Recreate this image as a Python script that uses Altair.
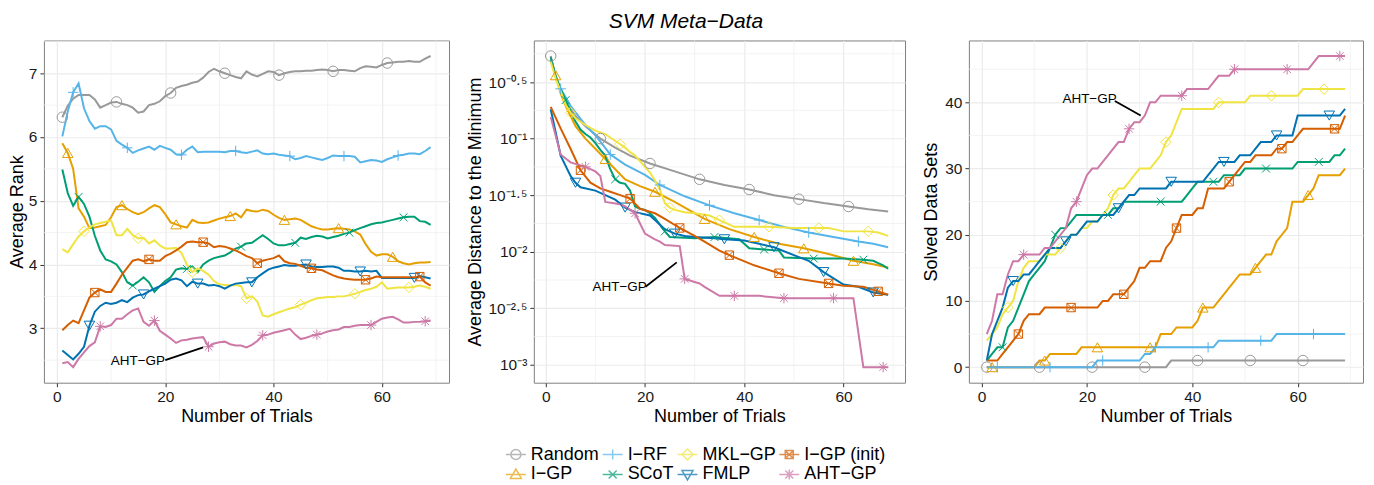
import altair as alt
import pandas as pd

FONT = "Liberation Sans"

# ---------------- series definitions ----------------
series_names = ["Random", "I−GP", "I−RF", "SCoT", "MKL−GP", "FMLP", "I−GP (init)", "AHT−GP"]
series_colors = ["#999999", "#E69F00", "#56B4E9", "#009E73", "#F0E442", "#0072B2", "#D55E00", "#CC79A7"]
first_marker_trial = [1, 2, 3, 4, 5, 6, 7, 8]
legend_order = ["Random", "I−RF", "MKL−GP", "I−GP (init)", "I−GP", "SCoT", "FMLP", "AHT−GP"]

marker_shapes = [
    "circle",
    "triangle-up",
    "M-1,0L1,0M0,-1L0,1",
    "M-0.75,-0.75L0.75,0.75M-0.75,0.75L0.75,-0.75",
    "diamond",
    "triangle-down",
    "M-0.8,-0.8L0.8,-0.8L0.8,0.8L-0.8,0.8ZM-0.8,-0.8L0.8,0.8M-0.8,0.8L0.8,-0.8",
    "M-1,0L1,0M0,-1L0,1M-0.72,-0.72L0.72,0.72M-0.72,0.72L0.72,-0.72",
]
legend_shapes = [
    "M-1,0L1,0M0.5,0A0.5,0.5,0,1,1,-0.5,0A0.5,0.5,0,1,1,0.5,0",
    "M-1,0L1,0M0,-0.55L0.55,0.4L-0.55,0.4Z",
    "M-1,0L1,0M0,-0.5L0,0.5",
    "M-1,0L1,0M-0.4,-0.4L0.4,0.4M-0.4,0.4L0.4,-0.4",
    "M-1,0L1,0M0,-0.55L0.55,0L0,0.55L-0.55,0Z",
    "M-1,0L1,0M0,0.55L0.55,-0.4L-0.55,-0.4Z",
    "M-1,0L1,0M-0.4,-0.4L0.4,-0.4L0.4,0.4L-0.4,0.4ZM-0.4,-0.4L0.4,0.4M-0.4,0.4L0.4,-0.4",
    "M-1,0L1,0M0,-0.5L0,0.5M-0.4,-0.4L0.4,0.4M-0.4,0.4L0.4,-0.4",
]

trials = list(range(1, 70))

# ---------------- panel 1: average rank ----------------
rank_random = [6.31, 6.49, 6.60, 6.66, 6.66, 6.66, 6.59, 6.46, 6.50, 6.54,
               6.55, 6.52, 6.50, 6.46, 6.38, 6.40, 6.50, 6.52, 6.56, 6.64,
               6.69, 6.77, 6.80, 6.82, 6.85, 6.87, 6.93, 7.02, 7.07, 7.03,
               7.00, 6.97, 6.94, 6.92, 7.03, 6.98, 6.95, 6.99, 7.03, 7.02,
               6.97, 7.00, 7.02, 7.03, 7.03, 7.04, 7.04, 7.05, 7.06, 7.05,
               7.03, 7.05, 7.05, 7.04, 7.03, 7.08, 7.11, 7.10, 7.09, 7.13,
               7.16, 7.17, 7.18, 7.18, 7.19, 7.18, 7.18, 7.23, 7.27]
rank_igp = [5.90, 5.75, 5.50, 4.88, 4.75, 4.57, 4.58, 4.60, 4.62, 4.74,
            4.90, 4.93, 4.87, 4.82, 4.79, 4.82, 4.88, 4.93, 4.90, 4.79,
            4.66, 4.63, 4.60, 4.58, 4.70, 4.66, 4.65, 4.66, 4.69, 4.72,
            4.74, 4.76, 4.80, 4.74, 4.86, 4.84, 4.83, 4.86, 4.84, 4.78,
            4.73, 4.70, 4.71, 4.72, 4.70, 4.65, 4.60, 4.57, 4.55, 4.55,
            4.56, 4.57, 4.56, 4.55, 4.52, 4.47, 4.32, 4.20, 4.14, 4.16,
            4.16, 4.12, 4.05, 4.02, 4.00, 4.02, 4.03, 4.03, 4.04]
rank_irf = [6.01, 6.40, 6.70, 6.84, 6.45, 6.25, 6.13, 6.17, 6.17, 6.12,
            5.94, 5.88, 5.83, 5.75, 5.79, 5.82, 5.85, 5.80, 5.86, 5.83,
            5.80, 5.73, 5.72, 5.80, 5.85, 5.76, 5.77, 5.77, 5.77, 5.77,
            5.76, 5.78, 5.78, 5.76, 5.75, 5.77, 5.79, 5.74, 5.73, 5.74,
            5.72, 5.71, 5.70, 5.65, 5.67, 5.70, 5.68, 5.66, 5.64, 5.67,
            5.71, 5.70, 5.70, 5.70, 5.69, 5.60, 5.62, 5.64, 5.63, 5.61,
            5.65, 5.68, 5.71, 5.72, 5.74, 5.74, 5.73, 5.78, 5.84]
rank_scot = [5.49, 5.12, 4.92, 5.06, 4.95, 4.75, 4.45, 4.22, 4.08, 4.05,
             4.00, 3.88, 3.72, 3.67, 3.73, 3.80, 3.72, 3.57, 3.66, 3.74,
             3.80, 3.92, 3.94, 3.93, 3.97, 3.88, 4.00, 4.06, 4.10, 4.12,
             4.14, 4.19, 4.25, 4.28, 4.33, 4.34, 4.40, 4.46, 4.40, 4.33,
             4.30, 4.30, 4.32, 4.34, 4.42, 4.40, 4.43, 4.45, 4.44, 4.41,
             4.43, 4.45, 4.48, 4.50, 4.54, 4.57, 4.60, 4.63, 4.65, 4.66,
             4.68, 4.70, 4.72, 4.74, 4.75, 4.75, 4.68, 4.67, 4.62]
rank_mkl = [4.24, 4.19, 4.32, 4.44, 4.52, 4.58, 4.63, 4.65, 4.67, 4.69,
            4.46, 4.46, 4.56, 4.46, 4.41, 4.42, 4.33, 4.38, 4.30, 4.25,
            4.25, 4.26, 4.18, 4.00, 3.88, 3.94, 3.90, 3.84, 3.74, 3.69,
            3.68, 3.67, 3.68, 3.66, 3.47, 3.50, 3.42, 3.20, 3.18, 3.22,
            3.25, 3.28, 3.31, 3.33, 3.37, 3.40, 3.44, 3.47, 3.48, 3.49,
            3.49, 3.50, 3.50, 3.52, 3.54, 3.57, 3.60, 3.62, 3.65, 3.72,
            3.62, 3.63, 3.64, 3.64, 3.64, 3.65, 3.67, 3.65, 3.62]
rank_fmlp = [2.65, 2.58, 2.51, 2.60, 2.71, 3.04, 3.26, 3.35, 3.40, 3.38,
             3.40, 3.44, 3.41, 3.48, 3.52, 3.53, 3.58, 3.62, 3.66, 3.70,
             3.76, 3.78, 3.75, 3.66, 3.73, 3.70, 3.70, 3.67, 3.68, 3.66,
             3.62, 3.67, 3.70, 3.71, 3.72, 3.72, 3.80, 3.86, 3.92, 3.95,
             3.97, 3.99, 3.98, 3.98, 3.99, 4.00, 3.97, 3.96, 3.96, 3.97,
             3.97, 3.95, 3.90, 3.90, 3.89, 3.89, 3.90, 3.89, 3.90, 3.79,
             3.79, 3.79, 3.79, 3.79, 3.79, 3.79, 3.82, 3.80, 3.78]
rank_init = [2.97, 3.05, 3.12, 3.08, 3.28, 3.48, 3.56, 3.61, 3.57, 3.57,
             3.70, 3.84, 3.95, 4.06, 4.08, 4.05, 4.08, 4.06, 4.06, 4.13,
             4.17, 4.22, 4.28, 4.35, 4.36, 4.35, 4.35, 4.33, 4.27, 4.29,
             4.28, 4.25, 4.22, 4.18, 4.13, 4.10, 4.02, 4.06, 4.08, 4.10,
             4.14, 4.05, 4.02, 4.01, 3.98, 3.95, 3.94, 3.92, 3.91, 3.87,
             3.83, 3.80, 3.78, 3.77, 3.76, 3.76, 3.76, 3.78, 3.81, 3.80,
             3.80, 3.80, 3.80, 3.80, 3.80, 3.80, 3.81, 3.72, 3.67]
rank_aht = [2.45, 2.47, 2.39, 2.52, 2.62, 2.72, 2.78, 3.03, 3.02, 3.05,
            3.15, 3.15, 3.22, 3.28, 3.31, 3.10, 3.04, 3.12, 2.96, 2.90,
            2.84, 2.77, 2.81, 2.82, 2.84, 2.85, 2.86, 2.71, 2.76, 2.78,
            2.79, 2.75, 2.73, 2.73, 2.70, 2.74, 2.80, 2.89, 2.90, 2.93,
            2.95, 2.97, 2.99, 2.90, 2.83, 2.85, 2.88, 2.90, 2.92, 2.95,
            2.97, 2.98, 3.02, 3.02, 3.04, 3.05, 3.05, 3.05, 3.10, 3.15,
            3.17, 3.18, 3.14, 3.09, 3.09, 3.10, 3.10, 3.11, 3.12]

# ---------------- panel 2: distance to minimum (log10 of value) ----------------
dist_x_random = [1, 2, 3, 4, 5, 6, 8, 11, 14, 17, 21, 26, 31, 36, 41, 46, 51, 56, 61, 65, 69]
dist_log_random = [-0.27, -0.45, -0.58, -0.68, -0.74, -0.80, -0.89, -1.00, -1.08, -1.15, -1.22,
                   -1.29, -1.36, -1.41, -1.45, -1.50, -1.535, -1.57, -1.60, -1.625, -1.645]
dist_x_igp = [1, 2, 3, 4, 6, 8, 10, 12, 16, 19, 22, 26, 32, 37, 42, 47, 52, 57, 62, 66, 69]
dist_log_igp = [-0.30, -0.44, -0.60, -0.71, -0.89, -1.00, -1.09, -1.18, -1.36, -1.42, -1.47,
                -1.56, -1.71, -1.80, -1.87, -1.93, -1.97, -2.02, -2.08, -2.11, -2.14]
dist_x_irf = [1, 2, 3, 5, 8, 10, 13, 16, 20, 23, 28, 33, 38, 43, 48, 53, 58, 63, 66, 69]
dist_log_irf = [-0.30, -0.45, -0.56, -0.71, -0.88, -0.97, -1.14, -1.23, -1.32, -1.41,
                -1.51, -1.59, -1.66, -1.72, -1.78, -1.83, -1.87, -1.91, -1.93, -1.96]
dist_x_scot = [1, 2, 3, 4, 5, 6, 7, 8, 9, 10, 11, 12, 13, 14, 15, 16, 17, 18, 19, 20,
               21, 22, 23, 24, 25, 30, 34, 39, 41, 44, 47, 48, 54, 60, 64, 66, 67, 68, 69]
dist_log_scot = [-0.28, -0.45, -0.56, -0.66, -0.76, -0.85, -0.92, -0.96, -0.99, -1.04,
                 -1.10, -1.15, -1.27, -1.36, -1.39, -1.40, -1.46, -1.60, -1.62, -1.63,
                 -1.66, -1.70, -1.76, -1.82, -1.87, -1.88, -1.87, -1.89, -1.97, -1.98,
                 -1.99, -2.05, -2.06, -2.06, -2.07, -2.08, -2.10, -2.12, -2.15]
dist_x_mkl = [1, 2, 3, 4, 5, 6, 8, 10, 12, 13, 15, 16, 17, 18, 19, 20, 21, 22, 23, 24,
              25, 26, 28, 30, 33, 35, 37, 38, 40, 45, 50, 55, 57, 58, 60, 65, 67, 69]
dist_log_mkl = [-0.32, -0.47, -0.58, -0.70, -0.77, -0.82, -0.88, -0.93, -0.96, -0.99,
                -1.05, -1.08, -1.12, -1.15, -1.20, -1.25, -1.30, -1.37, -1.45, -1.57,
                -1.61, -1.63, -1.65, -1.66, -1.68, -1.72, -1.76, -1.78, -1.78, -1.78,
                -1.79, -1.79, -1.79, -1.80, -1.82, -1.82, -1.83, -1.86]
dist_x_fmlp = [1, 3, 5, 6, 7, 10, 12, 14, 16, 18, 21, 22, 24, 26, 28, 30, 34, 36, 40, 43,
               46, 50, 53, 56, 60, 63, 66, 69]
dist_log_fmlp = [-0.74, -1.15, -1.33, -1.39, -1.43, -1.46, -1.50, -1.54, -1.61, -1.65,
                 -1.68, -1.72, -1.80, -1.84, -1.86, -1.87, -1.88, -1.89, -1.90, -1.93,
                 -1.96, -2.03, -2.08, -2.18, -2.29, -2.31, -2.36, -2.38]
dist_x_init = [1, 3, 5, 7, 9, 11, 13, 15, 17, 19, 22, 24, 27, 30, 32, 35, 37, 42, 47, 51,
               57, 60, 64, 67, 69]
dist_log_init = [-0.72, -0.91, -1.09, -1.28, -1.39, -1.44, -1.47, -1.50, -1.53, -1.62,
                 -1.66, -1.71, -1.79, -1.86, -1.91, -1.99, -2.03, -2.12, -2.19, -2.24,
                 -2.28, -2.30, -2.31, -2.35, -2.38]
dist_x_aht = [1, 3, 5, 8, 10, 11, 12, 15, 16, 17, 18, 19, 20, 22, 23, 24, 27, 28, 31, 32,
              35, 38, 43, 48, 58, 62, 64, 68, 69]
dist_log_aht = [-0.81, -1.14, -1.21, -1.25, -1.29, -1.33, -1.56, -1.58, -1.60, -1.63,
                -1.66, -1.75, -1.84, -1.89, -1.91, -1.94, -1.95, -2.24, -2.28, -2.31,
                -2.39, -2.39, -2.39, -2.41, -2.41, -2.41, -3.02, -3.02, -3.02]

# ---------------- panel 3: solved data sets ----------------
solved_random = [0, 0, 0, 0, 0, 0, 0, 0, 0, 0,
                 0, 0, 0, 0, 0, 0, 0, 0, 0, 0,
                 0, 0, 0, 0, 0, 0, 0, 0, 0, 0,
                 0, 0, 0, 0, 0, 1, 1, 1, 1, 1,
                 1, 1, 1, 1, 1, 1, 1, 1, 1, 1,
                 1, 1, 1, 1, 1, 1, 1, 1, 1, 1,
                 1, 1, 1, 1, 1, 1, 1, 1, 1]
solved_igp = [0, 0, 0, 0, 0, 0, 0, 0, 0, 0,
              1, 1, 2, 2, 2, 2, 2, 2, 3, 3,
              3, 3, 3, 3, 3, 3, 3, 3, 3, 3,
              3, 3, 3, 5, 5, 5, 6, 6, 6, 6,
              7, 9, 9, 9, 10, 11, 12, 13, 14, 14,
              14, 15, 16, 17, 17, 19, 20, 21, 25, 25,
              25, 26, 27, 29, 29, 29, 29, 29, 30]
solved_irf = [0, 0, 0, 0, 0, 0, 0, 0, 0, 0,
              0, 0, 0, 0, 0, 0, 0, 0, 0, 0,
              0, 1, 1, 1, 1, 1, 1, 1, 1, 1,
              2, 2, 3, 3, 3, 3, 3, 3, 3, 3,
              3, 3, 3, 3, 4, 4, 4, 4, 4, 4,
              4, 4, 4, 4, 4, 5, 5, 5, 5, 5,
              5, 5, 5, 5, 5, 5, 5, 5, 5]
solved_scot = [1, 2, 3, 3, 6, 7, 9, 11, 13, 14,
               15, 16, 18, 20, 21, 21, 22, 23, 23, 23,
               23, 23, 23, 23, 24, 24, 25, 25, 25, 25,
               25, 25, 25, 25, 25, 25, 25, 25, 26, 27,
               28, 28, 28, 28, 28, 29, 29, 29, 29, 30,
               30, 30, 30, 30, 30, 30, 30, 30, 30, 31,
               31, 31, 31, 31, 31, 31, 32, 32, 33]
solved_mkl = [4, 5, 6, 8, 9, 10, 13, 15, 16, 16,
              16, 17, 17, 17, 18, 19, 20, 20, 21, 21,
              22, 22, 23, 24, 26, 27, 27, 28, 29, 30,
              30, 30, 31, 32, 34, 35, 37, 39, 39, 39,
              39, 39, 39, 39, 40, 40, 40, 40, 40, 40,
              41, 41, 41, 41, 41, 41, 41, 41, 41, 41,
              42, 42, 42, 42, 42, 42, 42, 42, 42]
solved_fmlp = [1, 5, 7, 9, 12, 13, 13, 14, 14, 15,
               16, 17, 18, 18, 18, 19, 20, 20, 21, 22,
               22, 22, 23, 23, 23, 24, 25, 26, 26, 27,
               27, 27, 27, 27, 27, 28, 28, 28, 28, 28,
               28, 28, 29, 30, 31, 31, 31, 31, 32, 32,
               32, 33, 34, 34, 34, 35, 35, 35, 35, 38,
               38, 38, 38, 38, 38, 38, 38, 38, 39]
solved_init = [1, 1, 1, 2, 3, 4, 5, 7, 8, 8,
               8, 9, 9, 9, 9, 9, 9, 9, 9, 9,
               9, 9, 10, 10, 11, 11, 11, 12, 13, 15,
               15, 16, 16, 16, 18, 19, 21, 23, 23, 23,
               24, 24, 27, 27, 27, 27, 28, 29, 30, 31,
               31, 32, 32, 32, 32, 33, 33, 34, 34, 35,
               36, 36, 36, 36, 36, 36, 36, 36, 38]
solved_aht = [5, 7, 11, 11, 14, 16, 16, 17, 17, 17,
              17, 18, 18, 19, 20, 21, 24, 25, 27, 29,
              30, 30, 31, 32, 33, 34, 34, 36, 37, 37,
              38, 40, 40, 41, 41, 41, 41, 41, 42, 42,
              42, 42, 42, 43, 44, 44, 44, 45, 45, 45,
              45, 45, 45, 45, 45, 45, 45, 45, 45, 45,
              45, 45, 46, 47, 47, 47, 47, 47, 47]

# ---------------- annotations (label x/y, segment x1/y1 -> x2/y2) ----------------
note_label = "AHT−GP"
rank_note = [14.96, 2.48, 20.0, 2.50, 27.0, 2.70]
dist_note_log = [14.9, -2.31, 20.1, -2.309, 26.4, -2.094]
solved_note = [20.5, 40.45, 25.3, 40.2, 30.2, 38.0]

# ---------------- axes ----------------
x_domain = [-2.4, 72.4]
x_major = [0, 20, 40, 60]
x_minor = [10, 30, 50, 70]
rank_domain = [2.146, 7.514]
rank_major = [3, 4, 5, 6, 7]
rank_minor = [2.5, 3.5, 4.5, 5.5, 6.5, 7.5]
dist_domain_log = [-3.1575, -0.1325]
dist_major_log = [-0.5, -1.0, -1.5, -2.0, -2.5, -3.0]
dist_minor_log = [-0.25, -0.75, -1.25, -1.75, -2.25, -2.75]
solved_domain = [-2.35, 49.35]
solved_major = [0, 10, 20, 30, 40]
solved_minor = [5, 15, 25, 35, 45]

dist_label_expr = (
    "datum.value > 0.2 ? '10⁻⁰·⁵' : datum.value > 0.05 ? '10⁻¹' : "
    "datum.value > 0.02 ? '10⁻¹·⁵' : datum.value > 0.005 ? '10⁻²' : "
    "datum.value > 0.002 ? '10⁻²·⁵' : '10⁻³'"
)

GRID_MINOR = "#EEEEEE"


def build_panel(xs, ys, y_title, y_domain, y_major, y_minor, note, width, y_extent,
                log=False, label_expr=None, legend_layer=None):
    conv = (lambda v: 10 ** v) if log else (lambda v: v)
    rows = []
    for k, name in enumerate(series_names):
        for t, v in zip(xs[k], ys[k]):
            rows.append({"series": name, "trial": t, "value": conv(v),
                         "marked": (t - first_marker_trial[k]) % 10 == 0})
    df = pd.DataFrame(rows)
    marks_df = df[df["marked"]]

    x_scale = alt.Scale(domain=x_domain, nice=False, zero=False)
    if log:
        y_scale = alt.Scale(type="log", domain=[conv(d) for d in y_domain], nice=False)
    else:
        y_scale = alt.Scale(domain=y_domain, nice=False, zero=False)

    x_axis = alt.Axis(values=x_major, title="Number of Trials")
    y_kw = dict(values=[conv(v) for v in y_major], title=y_title,
                minExtent=y_extent, maxExtent=y_extent)
    if label_expr:
        y_kw["labelExpr"] = label_expr
    y_axis = alt.Axis(**y_kw)

    color = alt.Color("series:N", scale=alt.Scale(domain=series_names, range=series_colors), legend=None)

    vgrid = alt.Chart(pd.DataFrame({"trial": x_minor})).mark_rule(
        color=GRID_MINOR, strokeWidth=0.7
    ).encode(x=alt.X("trial:Q", scale=x_scale, axis=x_axis))
    hgrid = alt.Chart(pd.DataFrame({"value": [conv(v) for v in y_minor]})).mark_rule(
        color=GRID_MINOR, strokeWidth=0.7
    ).encode(y=alt.Y("value:Q", scale=y_scale, axis=y_axis))

    lines = alt.Chart(df).mark_line(strokeWidth=2).encode(
        x=alt.X("trial:Q", scale=x_scale, axis=x_axis),
        y=alt.Y("value:Q", scale=y_scale, axis=y_axis),
        color=color,
    )
    pts = alt.Chart(marks_df).mark_point(filled=False, size=110, strokeWidth=1, opacity=1).encode(
        x=alt.X("trial:Q", scale=x_scale, axis=x_axis),
        y=alt.Y("value:Q", scale=y_scale, axis=y_axis),
        color=color,
        shape=alt.Shape("series:N", scale=alt.Scale(domain=series_names, range=marker_shapes), legend=None),
    )
    note_df = pd.DataFrame({
        "label": [note_label],
        "tx": [note[0]], "ty": [conv(note[1])],
        "x1": [note[2]], "y1": [conv(note[3])],
        "x2": [note[4]], "y2": [conv(note[5])],
    })
    seg = alt.Chart(note_df).mark_rule(color="black", strokeWidth=1.8).encode(
        x=alt.X("x1:Q", scale=x_scale, axis=x_axis), x2="x2:Q",
        y=alt.Y("y1:Q", scale=y_scale, axis=y_axis), y2="y2:Q",
    )
    txt = alt.Chart(note_df).mark_text(
        font=FONT, fontSize=13.5, color="black", align="center", baseline="middle"
    ).encode(
        x=alt.X("tx:Q", scale=x_scale, axis=x_axis),
        y=alt.Y("ty:Q", scale=y_scale, axis=y_axis),
        text="label:N",
    )
    layers = [vgrid, hgrid, lines, pts, seg, txt]
    if legend_layer is not None:
        layers.append(legend_layer)
    return alt.layer(*layers).resolve_scale(
        color="independent", shape="independent"
    ).properties(width=width, height=343)


# legend (built by Vega-Lite from an explicit scale domain)
legend_colors = [series_colors[series_names.index(s)] for s in legend_order]
legend_paths = [legend_shapes[series_names.index(s)] for s in legend_order]
legend_props = dict(
    orient="none", legendX=-29, legendY=404, columns=4, direction="horizontal",
    title=None, labelFont=FONT, labelFontSize=18, labelColor="black",
    symbolSize=400, symbolStrokeWidth=1.5, labelOffset=4,
    columnPadding=0, rowPadding=0, padding=0,
)
legend_layer = alt.Chart(pd.DataFrame({"series": legend_order})).transform_filter(
    "false"
).mark_point(filled=False).encode(
    color=alt.Color("series:N", scale=alt.Scale(domain=legend_order, range=legend_colors),
                    legend=alt.Legend(**legend_props)),
    shape=alt.Shape("series:N", scale=alt.Scale(domain=legend_order, range=legend_paths),
                    legend=alt.Legend(**legend_props)),
)

tr = [trials] * 8
p1 = build_panel(tr, [rank_random, rank_igp, rank_irf, rank_scot, rank_mkl, rank_fmlp, rank_init, rank_aht],
                 "Average Rank", rank_domain, rank_major, rank_minor, rank_note, 406, 15)
p2 = build_panel([dist_x_random, dist_x_igp, dist_x_irf, dist_x_scot, dist_x_mkl, dist_x_fmlp, dist_x_init, dist_x_aht],
                 [dist_log_random, dist_log_igp, dist_log_irf, dist_log_scot, dist_log_mkl, dist_log_fmlp, dist_log_init, dist_log_aht],
                 "Average Distance to the Minimum", dist_domain_log, dist_major_log, dist_minor_log,
                 dist_note_log, 372, 47, log=True, label_expr=dist_label_expr, legend_layer=legend_layer)
p3 = build_panel(tr, [solved_random, solved_igp, solved_irf, solved_scot, solved_mkl, solved_fmlp, solved_init, solved_aht],
                 "Solved Data Sets", solved_domain, solved_major, solved_minor, solved_note, 395, 26)

chart = alt.hconcat(p1, p2, p3, spacing=16).resolve_scale(
    color="independent", shape="independent"
).properties(
    title=alt.TitleParams(text="SVM Meta−Data", font=FONT, fontSize=21, fontStyle="italic",
                          fontWeight="normal", anchor="middle", offset=8, color="black"),
    padding={"left": 0, "top": 2, "right": 2, "bottom": 0},
).configure_view(
    stroke="#7F7F7F", strokeWidth=1
).configure_axis(
    labelFont=FONT, labelFontSize=15.5, labelColor="#1A1A1A", labelPadding=3,
    titleFont=FONT, titleFontSize=18, titleFontWeight="normal", titleColor="#000000",
    tickColor="#333333", tickSize=4, tickWidth=1, domain=False,
    gridColor="#EBEBEB", gridWidth=1.2,
).configure_axisX(titlePadding=2).configure_axisY(titlePadding=2.5)

chart.save("out.html", embed_options={"renderer": "svg", "actions": False})
